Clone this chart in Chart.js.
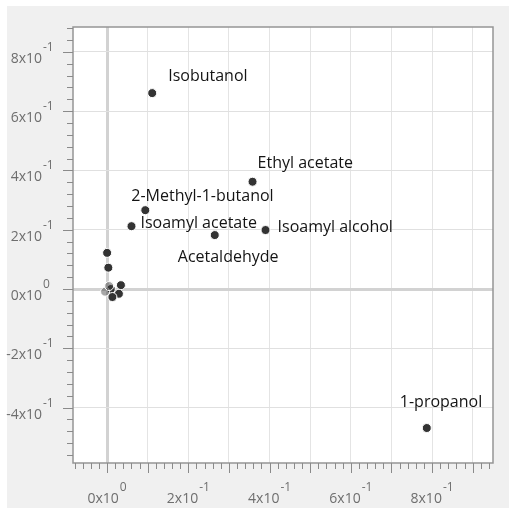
<!DOCTYPE html>
<html>
<head>
<meta charset="utf-8">
<script src="https://cdn.jsdelivr.net/npm/chart.js@4/dist/chart.umd.min.js"></script>
<style>
  html, body { margin: 0; padding: 0; background: #fff; }
  #wrap { width: 509px; height: 508px; }
</style>
</head>
<body>
<div id="wrap"><canvas id="myChart" width="509" height="508"></canvas></div>
<script>
// Datos
const compounds = ['Isobutanol', 'Ethyl acetate', '2-Methyl-1-butanol', 'Isoamyl acetate',
  'Acetaldehyde', 'Isoamyl alcohol', '1-propanol', '', '', '', '', '', '', '', ''];
const xValues = [0.111, 0.358, 0.094, 0.060, 0.265, 0.390, 0.787,
  0.000, 0.003, 0.034, 0.009, 0.029, 0.013, -0.005, 0.005];
const yValues = [0.661, 0.362, 0.266, 0.212, 0.182, 0.199, -0.469,
  0.122, 0.072, 0.013, 0.000, -0.016, -0.027, -0.009, 0.010];
const xTickValues = [0, 0.2, 0.4, 0.6, 0.8];
const yTickValues = [-0.4, -0.2, 0, 0.2, 0.4, 0.6, 0.8];

// posicion de las etiquetas (dx borde izq, dy linea base) respecto al punto
const labelPlace = [[16, -12], [5, -14], [-14, -9], [9, 2], [-37, 27], [12, 2], [-27, -21]];
const pointColors = xValues.map((v, i) => i >= 13 ? 'rgba(60,60,60,0.45)' : '#333333');

const FONT = '"Open Sans", "Noto Sans", sans-serif';

function fmt(v) {
  if (Math.abs(v) < 1e-9) return ['0x10', '0'];
  return [String(Math.round(v * 10)) + 'x10', '-1'];
}

const decor = {
  id: 'decor',
  beforeDraw(chart) {
    const c = chart.ctx, a = chart.chartArea;
    c.save();
    c.fillStyle = '#f0f0f0';
    c.fillRect(7, 6, chart.width - 7, chart.height - 6);
    c.fillStyle = '#ffffff';
    c.fillRect(a.left, a.top, a.right - a.left, a.bottom - a.top);
    c.restore();
  },
  afterDraw(chart) {
    const c = chart.ctx, a = chart.chartArea;
    const xs = chart.scales.x, ys = chart.scales.y;
    c.save();
    // marco
    c.strokeStyle = '#959595';
    c.lineWidth = 1.5;
    c.strokeRect(a.left, a.top, a.right - a.left, a.bottom - a.top);
    // marcas de los ejes
    c.strokeStyle = '#8a8a8a';
    c.lineWidth = 1;
    for (let i = -4; i <= 47; i++) {
      const v = i * 0.02;
      const px = Math.round(xs.getPixelForValue(v)) + 0.5;
      if (px < a.left || px > a.right) continue;
      const len = i % 5 === 0 ? 10 : 6;
      c.beginPath(); c.moveTo(px, a.bottom); c.lineTo(px, a.bottom + len); c.stroke();
    }
    for (let i = -14; i <= 22; i++) {
      const v = i * 0.04;
      const py = Math.round(ys.getPixelForValue(v)) + 0.5;
      if (py < a.top || py > a.bottom) continue;
      const len = i % 5 === 0 ? 10 : 6;
      c.beginPath(); c.moveTo(a.left, py); c.lineTo(a.left - len, py); c.stroke();
    }
    // etiquetas de los ejes
    c.fillStyle = '#6e6e6e';
    c.textBaseline = 'alphabetic';
    xTickValues.forEach(v => {
      const [m, e] = fmt(v);
      const px = xs.getPixelForValue(v);
      c.font = '14px ' + FONT;
      const wm = c.measureText(m).width;
      c.font = '12px ' + FONT;
      const we = c.measureText(e).width;
      const x0 = px - (wm + we + 1) / 2;
      c.font = '14px ' + FONT;
      c.textAlign = 'left';
      c.fillText(m, x0, a.bottom + 40);
      c.font = '12px ' + FONT;
      c.fillText(e, x0 + wm + 1, a.bottom + 28);
    });
    yTickValues.forEach(v => {
      const [m, e] = fmt(v);
      const py = ys.getPixelForValue(v);
      c.font = '14px ' + FONT;
      c.textAlign = 'right';
      c.fillText(m, 42, py + 11);
      c.font = '12px ' + FONT;
      c.textAlign = 'left';
      c.fillText(e, 43, py - 1);
    });
    // nombres de los compuestos
    const meta = chart.getDatasetMeta(0);
    c.fillStyle = '#141414';
    c.font = '16px ' + FONT;
    c.textAlign = 'left';
    labelPlace.forEach((p, i) => {
      const el = meta.data[i];
      c.fillText(compounds[i], el.x + p[0], el.y + p[1]);
    });
    c.restore();
  }
};

new Chart('myChart', {
  type: 'scatter',
  data: {
    datasets: [{
      label: 'Compuestos',
      data: xValues.map((x, i) => ({ x: x, y: yValues[i] })),
      pointRadius: 4.5,
      pointBackgroundColor: pointColors,
      pointBorderColor: '#ffffff',
      pointBorderWidth: 1
    }]
  },
  options: {
    responsive: false,
    animation: false,
    layout: { padding: { left: 73, right: 16, top: 27, bottom: 45 } },
    plugins: { legend: { display: false }, tooltip: { enabled: false } },
    scales: {
      x: {
        type: 'linear', min: -0.084, max: 0.95,
        afterBuildTicks: s => { s.ticks = [0, 1, 2, 3, 4, 5, 6, 7, 8, 9].map(i => ({ value: i / 10 })); },
        ticks: { display: false },
        border: { display: false },
        grid: {
          drawTicks: false,
          color: ctx => ctx.tick && ctx.tick.value === 0 ? '#d2d2d2' : '#e4e4e4',
          lineWidth: ctx => ctx.tick && ctx.tick.value === 0 ? 3 : 1
        }
      },
      y: {
        type: 'linear', min: -0.587, max: 0.884,
        afterBuildTicks: s => { s.ticks = yTickValues.map(v => ({ value: v })); },
        ticks: { display: false },
        border: { display: false },
        grid: {
          drawTicks: false,
          color: ctx => ctx.tick && ctx.tick.value === 0 ? '#d2d2d2' : '#e0e0e0',
          lineWidth: ctx => ctx.tick && ctx.tick.value === 0 ? 3 : 1
        }
      }
    }
  },
  plugins: [decor]
});
</script>
</body>
</html>
